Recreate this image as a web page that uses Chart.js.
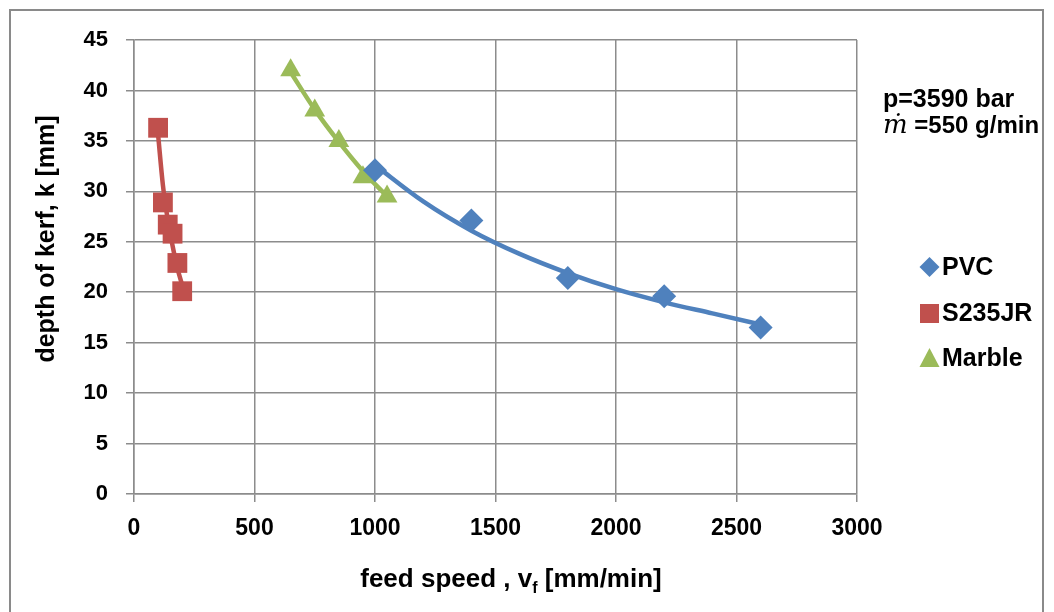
<!DOCTYPE html>
<html>
<head>
<meta charset="utf-8">
<script src="https://cdn.jsdelivr.net/npm/chart.js@4"></script>
<style>
  html, body { margin: 0; padding: 0; background: #fff; }
  #wrap { width: 1054px; height: 612px; position: relative; }
</style>
</head>
<body>
<div id="wrap"><canvas id="kerfChart"></canvas></div>
<script>
// measured points
const pvcSpeed = [1000, 1400, 1800, 2200, 2600];
const pvcDepth = [32.1, 27.1, 21.4, 19.6, 16.5];

const steelSpeed = [100, 120, 140, 160, 180, 200];
const steelDepth = [36.3, 28.9, 26.7, 25.8, 22.9, 20.1];

const marbleSpeed = [650, 750, 850, 950, 1050];
const marbleDepth = [42.0, 38.0, 35.0, 31.4, 29.5];

// trend lines
const pvcTrendSpeed = [1000, 1200, 1400, 1600, 1800, 2000, 2200, 2400, 2600];
const pvcTrendDepth = [32.6, 29.0, 26.1, 23.8, 21.9, 20.3, 19.0, 17.9, 16.8];

const steelTrendSpeed = [100, 120, 140, 160, 180, 200];
const steelTrendDepth = [35.6, 30.6, 27.2, 24.6, 22.4, 20.7];

const marbleTrendSpeed = [650, 750, 850, 950, 1050];
const marbleTrendDepth = [41.8, 38.1, 34.9, 32.0, 29.5];

const xTicks = [0, 500, 1000, 1500, 2000, 2500, 3000];
const yTicks = [0, 5, 10, 15, 20, 25, 30, 35, 40, 45];

const seriesNames = ["PVC", "S235JR", "Marble"];
const seriesColors = ["#4F81BD", "#C0504D", "#9BBB59"];
const seriesShapes = ["rectRot", "rect", "triangle"];

const gridColor = "#8c8c8c";
const FONT = "'Liberation Sans', Arial, sans-serif";

function pts(xs, ys){
    return xs.map((x, i) => ({ x: x, y: ys[i] }));
}

function markerSet(i, xs, ys, r){
    return {
        label: seriesNames[i],
        data: pts(xs, ys),
        showLine: false,
        pointStyle: seriesShapes[i],
        pointRadius: r,
        pointBackgroundColor: seriesColors[i],
        pointBorderColor: seriesColors[i],
        pointBorderWidth: 0,
        order: 0
    };
}

function trendSet(i, xs, ys){
    return {
        label: seriesNames[i] + " trend",
        data: pts(xs, ys),
        showLine: true,
        borderColor: seriesColors[i],
        borderWidth: 4.5,
        pointRadius: 0,
        cubicInterpolationMode: "monotone",
        order: 1
    };
}

// frame, axis titles, note and legend
const extras = {
    id: "extras",
    afterDraw(chart){
        const ctx = chart.ctx;
        ctx.save();

        ctx.strokeStyle = "#8a8a8a";
        ctx.lineWidth = 2;
        ctx.strokeRect(10, 10, 1033, 640);

        ctx.fillStyle = "#000";

        // y title
        ctx.save();
        ctx.translate(47, 239);
        ctx.rotate(-Math.PI / 2);
        ctx.font = "bold 25px " + FONT;
        ctx.textAlign = "center";
        ctx.textBaseline = "middle";
        ctx.fillText("depth of kerf, k [mm]", 0, 0);
        ctx.restore();

        // x title with subscript
        const big = "bold 26px " + FONT;
        const small = "bold 16px " + FONT;
        const a = "feed speed , v", s = "f", b = " [mm/min]";
        ctx.font = big;
        const wa = ctx.measureText(a).width, wb = ctx.measureText(b).width;
        ctx.font = small;
        const ws = ctx.measureText(s).width;
        let x0 = 511 - (wa + ws + wb) / 2;
        const base = 587;
        ctx.textAlign = "left";
        ctx.textBaseline = "alphabetic";
        ctx.font = big;
        ctx.fillText(a, x0, base);
        ctx.font = small;
        ctx.fillText(s, x0 + wa, base + 6);
        ctx.font = big;
        ctx.fillText(b, x0 + wa + ws, base);

        // note
        ctx.font = "bold 25px " + FONT;
        ctx.fillText("p=3590 bar", 883, 107);
        ctx.font = "italic 26px 'DejaVu Serif', 'Liberation Serif', serif";
        ctx.fillText("\u1E41", 883, 133);
        const wm = ctx.measureText("\u1E41").width;
        ctx.font = "bold 24px " + FONT;
        ctx.fillText(" =550 g/min", 883 + wm, 133);

        // legend
        const rows = [267, 313, 358];
        rows.forEach((y, i) => {
            ctx.fillStyle = seriesColors[i];
            ctx.beginPath();
            if (i === 0){
                ctx.moveTo(929.5, y - 10); ctx.lineTo(939.5, y);
                ctx.lineTo(929.5, y + 10); ctx.lineTo(919.5, y);
            } else if (i === 1){
                ctx.rect(920, y - 9, 19, 19);
            } else {
                ctx.moveTo(929.5, y - 10); ctx.lineTo(939.5, y + 9);
                ctx.lineTo(919.5, y + 9);
            }
            ctx.closePath();
            ctx.fill();
            ctx.fillStyle = "#000";
            ctx.font = "bold 25px " + FONT;
            ctx.textBaseline = "middle";
            ctx.fillText(seriesNames[i], 942, y + 1);
        });

        ctx.restore();
    }
};

new Chart(document.getElementById("kerfChart"), {
    type: "scatter",
    data: {
        datasets: [
            markerSet(0, pvcSpeed, pvcDepth, 12),
            markerSet(1, steelSpeed, steelDepth, 14),
            markerSet(2, marbleSpeed, marbleDepth, 12),
            trendSet(0, pvcTrendSpeed, pvcTrendDepth),
            trendSet(1, steelTrendSpeed, steelTrendDepth),
            trendSet(2, marbleTrendSpeed, marbleTrendDepth)
        ]
    },
    options: {
        responsive: true,
        maintainAspectRatio: false,
        animation: false,
        layout: { padding: { top: 40, right: 197, left: 0, bottom: 0 } },
        plugins: {
            legend: { display: false },
            tooltip: { enabled: false }
        },
        scales: {
            x: {
                type: "linear",
                min: 0,
                max: 3000,
                afterBuildTicks: (axis) => { axis.ticks = xTicks.map(v => ({ value: v })); },
                afterFit: (axis) => { axis.height = 118; },
                grid: { color: gridColor, lineWidth: 1.5, tickLength: 8 },
                border: { color: gridColor, width: 1.5 },
                ticks: {
                    color: "#000",
                    padding: 13,
                    maxRotation: 0,
                    callback: (v) => String(v),
                    font: { family: FONT, size: 23, weight: "bold" }
                }
            },
            y: {
                type: "linear",
                min: 0,
                max: 45,
                afterBuildTicks: (axis) => { axis.ticks = yTicks.map(v => ({ value: v })); },
                afterFit: (axis) => { axis.width = 134; },
                grid: { color: gridColor, lineWidth: 1.5, tickLength: 8 },
                border: { color: gridColor, width: 1.5 },
                ticks: {
                    color: "#000",
                    padding: 18,
                    callback: (v) => String(v),
                    font: { family: FONT, size: 22, weight: "bold" }
                }
            }
        }
    },
    plugins: [extras]
});
</script>
</body>
</html>
